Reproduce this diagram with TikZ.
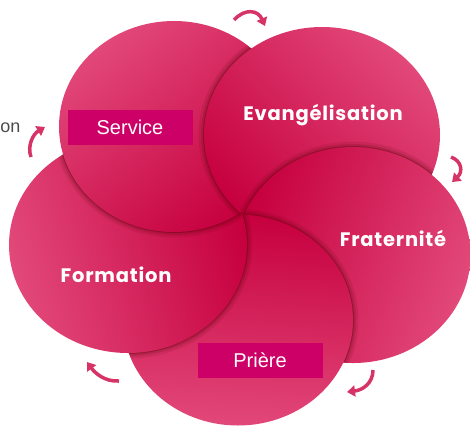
\documentclass[tikz,border=0pt]{standalone}
\usepackage{fontspec}
\setmainfont{Liberation Sans}
\newfontfamily\gothic[LetterSpace=4]{Poppins}
\usepackage{xcolor}
\usetikzlibrary{arrows.meta}

\definecolor{pkLight}{RGB}{226,72,122}
\definecolor{pkDark}{RGB}{198,0,62}
\definecolor{pkBox}{RGB}{204,0,102}
\definecolor{pkArrow}{RGB}{214,52,102}

\tikzset{
  disc/.style={top color=pkLight, bottom color=pkDark, shading angle=#1},
  rim/.style={draw=black!70!red, draw opacity=#1},
  labelbox/.style={fill=pkBox, text=white, minimum width=125pt, minimum height=35pt, inner sep=0pt, font=\fontsize{20}{24}\selectfont},
  title/.style={text=white, inner sep=0pt, font=\gothic\bfseries\fontsize{19.5}{23}\selectfont},
  turn/.style={draw=pkArrow, line width=3.5pt, -{Triangle[width=11pt,length=8pt]}}
}

\newcommand{\rimshadow}[1]{%
  \draw[rim=0.10, line width=11pt] #1;
  \draw[rim=0.15, line width=6pt] #1;
  \draw[rim=0.30, line width=2pt] #1;}

\def\service{(174,126.5) ellipse [x radius=115pt, y radius=105.5pt]}
\def\evang{(322,135) ellipse [x radius=118pt, y radius=108pt]}
\def\frat{(353,255) ellipse [x radius=117.5pt, y radius=108pt]}
\def\priere{(238,320) ellipse [x radius=115pt, y radius=105.5pt]}
\def\formation{(128,245) ellipse [x radius=119pt, y radius=108pt]}

\begin{document}
\begin{tikzpicture}[x=1pt,y=-1pt]
	\useasboundingbox (0,0) rectangle (470,426);
	
	% the five discs, each one over the one before
	\shade[disc=38] \service;
	\begin{scope}
		\clip \service;
		\rimshadow{\evang}
	\end{scope}
	\shade[disc=-45] \evang;
	\begin{scope}
		\clip \evang;
		\rimshadow{\frat}
	\end{scope}
	\shade[disc=-110] \frat;
	\begin{scope}
		\clip \frat;
		\rimshadow{\priere}
	\end{scope}
	\shade[disc=177] \priere;
	\begin{scope}
		\clip \priere;
		\rimshadow{\formation}
	\end{scope}
	\shade[disc=105] \formation;
	
	% Service comes back over Formation
	\begin{scope}
		\clip \formation;
		\rimshadow{\service}
		\shade[disc=38] \service;
		\begin{scope}
			\clip \service;
			\rimshadow{\evang}
			\shade[disc=-45] \evang;
		\end{scope}
	\end{scope}
	
	% labels
	\node [labelbox] (svc) at (130,127) {Service};
	\node [labelbox] (pri) at (260,360) {Prière};
	\node [title, anchor=base] (evg) at (323,120) {Evangélisation};
	\node [title, anchor=base] (fra) at (393,246) {Fraternité};
	\node [title, anchor=base] (frm) at (116,282) {Formation};
	\node [anchor=base east, inner sep=0pt, text=black!70, font=\fontsize{18}{22}\selectfont] (mis) at (20.5,132) {on};
	
	% turning arrows
	\coordinate (t1) at (234,20);
	\coordinate (t2) at (265,26);
	\coordinate (r1) at (451,157);
	\coordinate (r2) at (452,182);
	\coordinate (b1) at (373,370);
	\coordinate (b2) at (347,392);
	\coordinate (l1) at (119,381);
	\coordinate (l2) at (87,362);
	\coordinate (w1) at (31,157);
	\coordinate (w2) at (45,127);
	\draw [turn] (t1) .. controls (245,8) and (258,10) .. (t2);
	\draw [turn] (r1) .. controls (462,161) and (463,172) .. (r2);
	\draw [turn] (b1) .. controls (373,383) and (363,390) .. (b2);
	\draw [turn] (l1) .. controls (105,382) and (95,373) .. (l2);
	\draw [turn] (w1) .. controls (27,146) and (33,134) .. (w2);
\end{tikzpicture}
\end{document}
